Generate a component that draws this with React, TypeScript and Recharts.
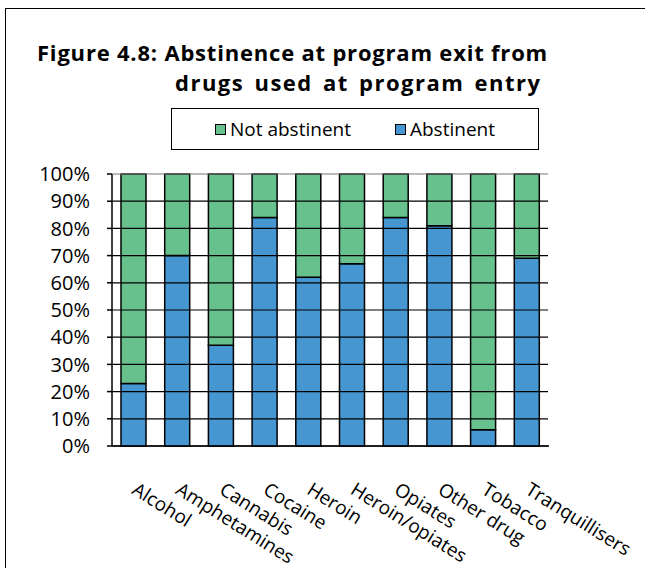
import React from 'react';
import { BarChart, Bar, XAxis, YAxis, Legend } from 'recharts';

const categories = [
  'Alcohol',
  'Amphetamines',
  'Cannabis',
  'Cocaine',
  'Heroin',
  'Heroin/opiates',
  'Opiates',
  'Other drug',
  'Tobacco',
  'Tranquillisers',
];
const abstinent = [23, 70, 37, 84, 62, 67, 84, 81, 6, 69];
const notAbstinent = [77, 30, 63, 16, 38, 33, 16, 19, 94, 31];
const yTicks = [0, 10, 20, 30, 40, 50, 60, 70, 80, 90, 100];
const boundaryTicks = [0, 1, 2, 3, 4, 5, 6, 7, 8, 9, 10];

const GREEN = '#66C18C';
const BLUE = '#4696D2';
const FONT = '"Open Sans", sans-serif';
const PLOT_W = 436;
const Y_TICK_SIZE = 5;
const Y_TICK_MARGIN = 17;

const data = categories.map((name, i) => ({
  name,
  idx: i + 0.5,
  abstinent: abstinent[i],
  notAbstinent: notAbstinent[i],
}));

// rotated category labels, text starts at the tick and runs down-right
function CategoryTick(props: any) {
  const { x, y, payload } = props;
  const tx = x - 3;
  const ty = y + 38;
  return (
    <text
      x={tx}
      y={ty}
      transform={`rotate(32, ${tx}, ${ty})`}
      textAnchor="start"
      fontSize={19}
      fontFamily={FONT}
      fill="#000"
    >
      {payload.value}
    </text>
  );
}

// percent label plus the horizontal gridline for that tick
function PercentTick(props: any) {
  const { x, y, payload } = props;
  const axisX = x + Y_TICK_SIZE + Y_TICK_MARGIN;
  return (
    <g>
      <line
        x1={axisX}
        x2={axisX + PLOT_W}
        y1={y}
        y2={y}
        stroke={payload.value === 100 ? '#777' : '#000'}
        strokeWidth={1.2}
      />
      <text
        x={x}
        y={y}
        dy="0.355em"
        textAnchor="end"
        fontSize={20}
        fontFamily={FONT}
        fill="#000"
      >
        {`${payload.value}%`}
      </text>
    </g>
  );
}

function LegendBox() {
  const items = [
    { label: 'Not abstinent', color: GREEN },
    { label: 'Abstinent', color: BLUE },
  ];
  return (
    <div
      style={{
        width: 368,
        height: 42,
        border: '1.5px solid #000',
        boxSizing: 'border-box',
        display: 'flex',
        alignItems: 'center',
        justifyContent: 'center',
        gap: 44,
        fontFamily: FONT,
        fontSize: 19,
        background: '#fff',
      }}
    >
      {items.map((it) => (
        <div key={it.label} style={{ display: 'flex', alignItems: 'center' }}>
          <span
            style={{
              display: 'inline-block',
              width: 9,
              height: 9,
              background: it.color,
              border: '1.5px solid #000',
              marginRight: 4,
            }}
          />
          <span>{it.label}</span>
        </div>
      ))}
    </div>
  );
}

export default function App() {
  return (
    <div style={{ position: 'absolute', left: 0, top: 0, width: 645, height: 568, background: '#fff', overflow: 'hidden' }}>
      <div
        style={{
          position: 'absolute',
          left: 5,
          top: 8,
          width: 700,
          height: 700,
          borderLeft: '1.5px solid #000',
          borderTop: '1.5px solid #000',
        }}
      />
      <div
        style={{
          position: 'absolute',
          left: 37,
          top: 37,
          width: 560,
          fontFamily: FONT,
          fontWeight: 700,
          fontSize: 22,
          letterSpacing: 0.8,
          lineHeight: '30px',
          color: '#000',
          whiteSpace: 'nowrap',
        }}
      >
        <div>Figure 4.8: Abstinence at program exit from</div>
        <div style={{ paddingLeft: 138, letterSpacing: 1.5, wordSpacing: 3 }}>drugs used at program entry</div>
      </div>
      <div style={{ position: 'absolute', left: 0, top: 0 }}>
        <BarChart
          width={645}
          height={568}
          data={data}
          margin={{ top: 174, right: 96, bottom: 22, left: 52 }}
          barSize={25}
        >
          <YAxis
            domain={[0, 100]}
            ticks={yTicks}
            width={60}
            tickSize={Y_TICK_SIZE}
            tickMargin={Y_TICK_MARGIN}
            interval={0}
            tick={<PercentTick />}
            axisLine={{ stroke: '#000', strokeWidth: 1.5 }}
            tickLine={{ stroke: '#000', strokeWidth: 1.5 }}
          />
          <XAxis
            type="number"
            dataKey="idx"
            domain={[0, 10]}
            ticks={boundaryTicks}
            interval={0}
            tick={false}
            tickSize={5}
            height={1}
            axisLine={{ stroke: '#000', strokeWidth: 1.5 }}
            tickLine={{ stroke: '#000', strokeWidth: 1.5 }}
          />
          <XAxis
            xAxisId="cat"
            dataKey="name"
            height={99}
            tickLine={false}
            axisLine={false}
            interval={0}
            tick={<CategoryTick />}
          />
          <Legend
            verticalAlign="middle"
            align="center"
            layout="horizontal"
            content={() => <LegendBox />}
            wrapperStyle={{ position: 'absolute', left: 171, top: 108, width: 368, height: 42 }}
          />
          <Bar
            dataKey="abstinent"
            name="Abstinent"
            stackId="a"
            xAxisId="cat"
            fill={BLUE}
            stroke="#000"
            strokeWidth={1.5}
            zIndex={600}
            isAnimationActive={false}
          />
          <Bar
            dataKey="notAbstinent"
            name="Not abstinent"
            stackId="a"
            xAxisId="cat"
            fill={GREEN}
            stroke="#000"
            strokeWidth={1.5}
            zIndex={600}
            isAnimationActive={false}
          />
        </BarChart>
      </div>
    </div>
  );
}
